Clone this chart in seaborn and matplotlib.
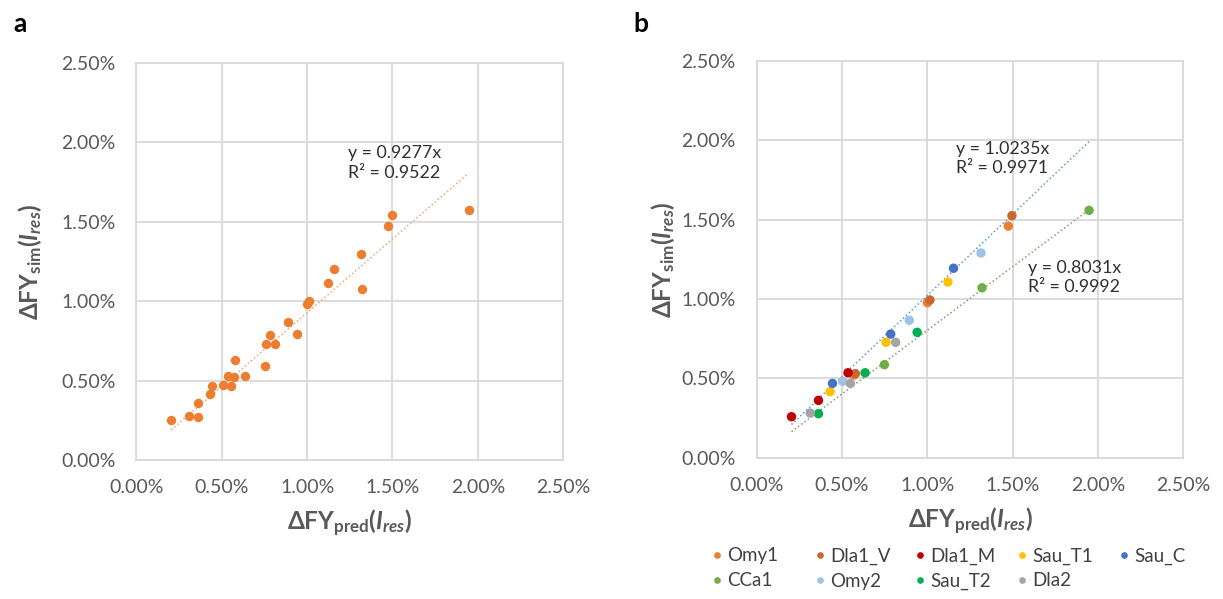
import matplotlib
matplotlib.use("Agg")
import matplotlib.pyplot as plt
from matplotlib.lines import Line2D
import seaborn as sns
import pandas as pd
import numpy as np

# ---------------- data (values in %) ----------------
a_pred = [0.204, 0.311, 0.361, 0.361, 0.432, 0.443, 0.506, 0.553, 0.539, 0.570,
          0.578, 0.636, 0.751, 0.761, 0.784, 0.814, 0.890, 0.942, 1.001, 1.012,
          1.120, 1.155, 1.320, 1.313, 1.474, 1.498, 1.946]
a_sim = [0.249, 0.278, 0.274, 0.358, 0.416, 0.469, 0.473, 0.465, 0.532, 0.521,
         0.628, 0.532, 0.590, 0.729, 0.785, 0.729, 0.867, 0.792, 0.980, 0.999,
         1.114, 1.200, 1.077, 1.297, 1.473, 1.540, 1.575]
a_slope = 0.9277
a_r2 = 0.9522

series_names = ["Omy1", "Dla1_V", "Dla1_M", "Sau_T1", "Sau_C",
                "CCa1", "Omy2", "Sau_T2", "Dla2"]
series_colors = ["#ED7D31", "#C9692E", "#C00000", "#FFC000", "#4472C4",
                 "#70AD47", "#9DC3E6", "#00B050", "#A5A5A5"]
b_pred = {
    "Omy1":   [0.570, 1.000, 1.474],
    "Dla1_V": [0.578, 1.015, 1.495],
    "Dla1_M": [0.204, 0.362, 0.535],
    "Sau_T1": [0.430, 0.758, 1.120],
    "Sau_C":  [0.444, 0.785, 1.153],
    "CCa1":   [0.748, 1.320, 1.947],
    "Omy2":   [0.504, 0.894, 1.314],
    "Sau_T2": [0.362, 0.635, 0.940],
    "Dla2":   [0.314, 0.549, 0.814],
}
b_sim = {
    "Omy1":   [0.521, 0.977, 1.460],
    "Dla1_V": [0.530, 0.994, 1.525],
    "Dla1_M": [0.258, 0.361, 0.535],
    "Sau_T1": [0.416, 0.727, 1.107],
    "Sau_C":  [0.468, 0.779, 1.194],
    "CCa1":   [0.586, 1.071, 1.559],
    "Omy2":   [0.481, 0.866, 1.290],
    "Sau_T2": [0.277, 0.535, 0.790],
    "Dla2":   [0.281, 0.468, 0.727],
}
b_fit_upper = (1.0235, 0.9971)   # all except CCa1
b_fit_lower = (0.8031, 0.9992)   # CCa1

ticks = [0.0, 0.5, 1.0, 1.5, 2.0, 2.5]
tick_labels = ["0.00%", "0.50%", "1.00%", "1.50%", "2.00%", "2.50%"]

# ---------------- style ----------------
sns.set_theme(style="white")
plt.rcParams["font.family"] = ["Lato", "DejaVu Sans"]
plt.rcParams["mathtext.fontset"] = "custom"
plt.rcParams["mathtext.rm"] = "Lato"
plt.rcParams["mathtext.it"] = "Lato:italic"
plt.rcParams["mathtext.bf"] = "Lato:bold"
plt.rcParams["mathtext.bfit"] = "Lato:bold:italic"

GRID = "#D9D9D9"
TXT = "#595959"

fig = plt.figure(figsize=(12.23, 5.99), dpi=100)
ax_a = fig.add_axes([0.1115, 0.232, 0.349, 0.663])
ax_b = fig.add_axes([0.6187, 0.236, 0.349, 0.662])

xlab = r"$\mathbf{\Delta FY}_{\mathbf{pred}}\mathbf{(}\mathbfit{I}_{\mathbfit{res}}\mathbf{)}$"
ylab = r"$\mathbf{\Delta FY}_{\mathbf{sim}}\mathbf{(}\mathbfit{I}_{\mathbfit{res}}\mathbf{)}$"


def style_axes(ax, ylabelpad):
    ax.set_xlim(0, 2.5)
    ax.set_ylim(0, 2.5)
    ax.set_xticks(ticks)
    ax.set_yticks(ticks)
    ax.set_xticklabels(tick_labels)
    ax.set_yticklabels(tick_labels)
    ax.grid(True, color=GRID, linewidth=1.3)
    ax.set_axisbelow(True)
    for s in ax.spines.values():
        s.set_color(GRID)
        s.set_linewidth(1.3)
    ax.tick_params(axis="both", length=0, labelsize=14, labelcolor=TXT)
    ax.tick_params(axis="x", pad=14)
    ax.tick_params(axis="y", pad=15)
    ax.set_xlabel(xlab, fontsize=17.5, color=TXT, labelpad=8)
    ax.set_ylabel(ylab, fontsize=17.5, color=TXT, labelpad=ylabelpad)


# ---------------- panel a ----------------
df_a = pd.DataFrame({"pred": a_pred, "sim": a_sim})
sns.scatterplot(data=df_a, x="pred", y="sim", ax=ax_a, color="#ED7D31",
                s=46, linewidth=0, zorder=3)
xa = np.array([min(a_pred), max(a_pred)])
sns.lineplot(x=xa, y=a_slope * xa, ax=ax_a, color="#F4A36E", linestyle=":",
             linewidth=1.1, zorder=2)
style_axes(ax_a, 12)
ax_a.text(1.24, 1.87, f"y = {a_slope:.4f}x\nR² = {a_r2:.4f}", fontsize=12.8,
          color="#303030", ha="left", va="center", linespacing=1.25)

# ---------------- panel b ----------------
rows = []
for name in series_names:
    for p, s in zip(b_pred[name], b_sim[name]):
        rows.append({"series": name, "pred": p, "sim": s})
df_b = pd.DataFrame(rows)
palette = dict(zip(series_names, series_colors))
sns.scatterplot(data=df_b, x="pred", y="sim", hue="series", hue_order=series_names,
                palette=palette, ax=ax_b, s=46, linewidth=0, zorder=3, legend=False)

up = df_b[df_b.series != "CCa1"]
xu = np.array([up.pred.min(), df_b.pred.max()])
sns.lineplot(x=xu, y=b_fit_upper[0] * xu, ax=ax_b, color="#5B9BD5",
             linestyle=":", linewidth=1.1, zorder=2)
lo = df_b[df_b.series == "CCa1"]
xl = np.array([df_b.pred.min(), lo.pred.max()])
sns.lineplot(x=xl, y=b_fit_lower[0] * xl, ax=ax_b, color="#8F9A66",
             linestyle=":", linewidth=1.1, zorder=2)
style_axes(ax_b, 3)
ax_b.text(1.166, 1.885, f"y = {b_fit_upper[0]:.4f}x\nR² = {b_fit_upper[1]:.4f}",
          fontsize=12.8, color="#303030", ha="left", va="center", linespacing=1.25)
ax_b.text(1.588, 1.137, f"y = {b_fit_lower[0]:.4f}x\nR² = {b_fit_lower[1]:.4f}",
          fontsize=12.8, color="#303030", ha="left", va="center", linespacing=1.25)

# legend: Excel-style uniform grid, 5 columns x 2 rows (row-major)
W, H = 1223.0, 599.0
col_x = [711, 814, 914, 1016, 1118]   # left edge of each legend cell (px)
row_y = [556, 581]                    # centre of each legend row (px)
for i, name in enumerate(series_names):
    r, c = divmod(i, 5)
    h = Line2D([0], [0], marker="o", linestyle="", markersize=4.8,
               markerfacecolor=palette[name], markeredgewidth=0)
    fig.legend([h], [name], loc="center left",
               bbox_to_anchor=(col_x[c] / W, 1 - row_y[r] / H),
               frameon=False, fontsize=13.5, handlelength=0.6,
               handletextpad=0.25, borderpad=0, borderaxespad=0,
               labelcolor="#404040")

# panel letters
fig.text(0.011, 1 - 32 / H, "a", fontsize=19, fontweight="bold", color="black",
         va="baseline")
fig.text(0.5176, 1 - 32 / H, "b", fontsize=19, fontweight="bold", color="black",
         va="baseline")

fig.savefig("out.png", dpi=100)
